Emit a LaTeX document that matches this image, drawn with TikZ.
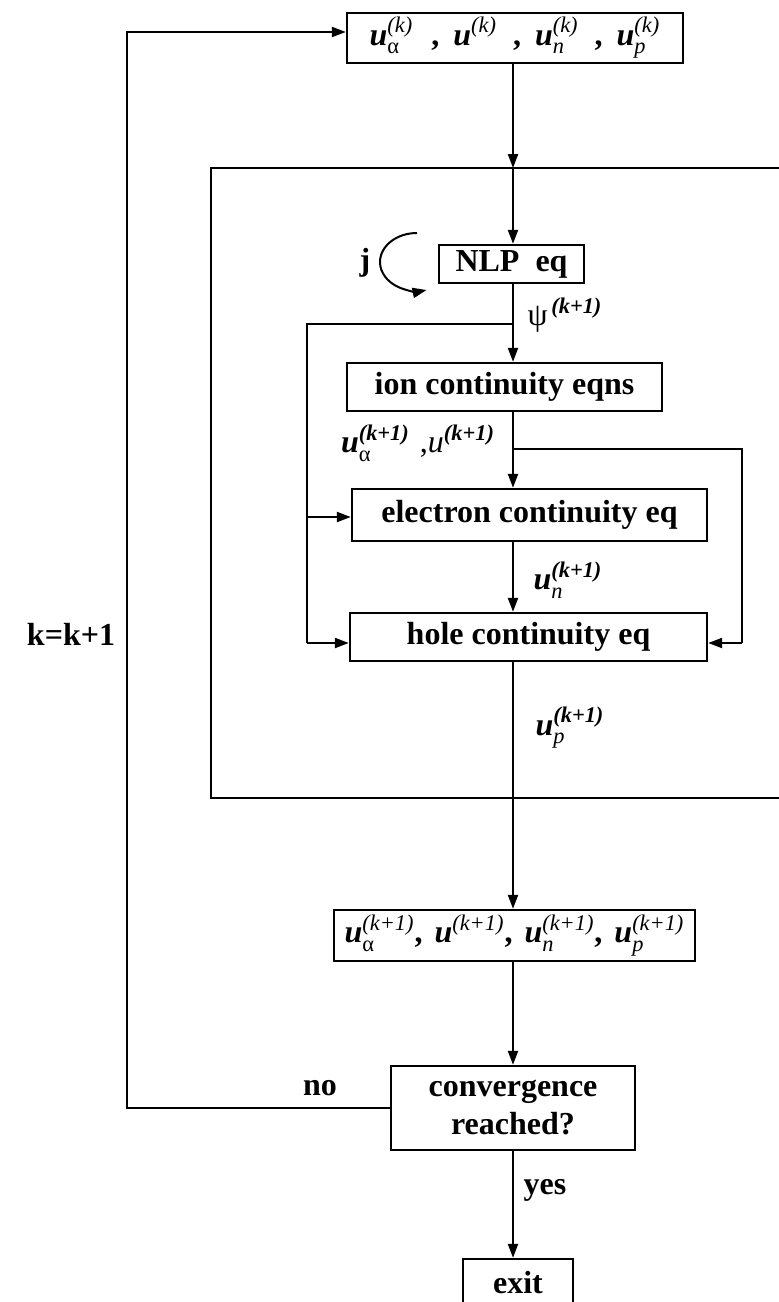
\documentclass[tikz,border=0pt]{standalone}
\usepackage{fontspec}
\setmainfont{Liberation Serif}
\usepackage{amsmath}
\usetikzlibrary{arrows.meta}
\newcommand{\uvar}[3]{\ensuremath{\text{#1}^{\text{#2}}_{\text{#3}}}}
\newcommand{\bu}{\bfseries\itshape u}
\begin{document}
\begin{tikzpicture}[x=0.5pt,y=-0.5pt,
  font=\fontsize{16}{19}\selectfont\bfseries,
  box/.style={draw, line width=1.2pt, inner sep=0pt, align=center},
  ln/.style={line width=1.1pt},
  arr/.style={line width=1.1pt, -{Triangle[length=7pt,width=5pt]}},
  lbl/.style={inner sep=0pt}]
\useasboundingbox (0,0) rectangle (779,1302);
\clip (0,0) rectangle (779,1302);
% boxes
\node[box, minimum width=168pt, minimum height=25pt] (top) at (515,38)
  {\uvar{\bu}{\normalfont\itshape(k)}{\normalfont α}\hspace{9pt},\hspace{7pt}%
   \uvar{\bu}{\normalfont\itshape(k)}{}\hspace{8pt},\hspace{7pt}%
   \uvar{\bu}{\normalfont\itshape(k)}{\normalfont\itshape n}\hspace{8pt},\hspace{7pt}%
   \uvar{\bu}{\normalfont\itshape(k)}{\normalfont\itshape p}};
\node[box, minimum width=72.5pt, minimum height=19pt] (nlp) at (511.5,264) {NLP\ \ eq};
\node[box, minimum width=157.5pt, minimum height=24pt] (ion) at (504.5,387) {ion continuity eqns};
\node[box, minimum width=177.5pt, minimum height=26pt] (elec) at (529.5,515) {electron continuity eq};
\node[box, minimum width=178.5pt, minimum height=24pt] (hole) at (528.5,637) {hole continuity eq};
\node[box, minimum width=180.5pt, minimum height=25.5pt] (res) at (514.5,935.5)
  {\uvar{\bu}{\normalfont\itshape(k+1)}{\normalfont α},\hspace{6pt}%
   \uvar{\bu}{\normalfont\itshape(k+1)}{},\hspace{6pt}%
   \uvar{\bu}{\normalfont\itshape(k+1)}{\normalfont\itshape n},\hspace{6pt}%
   \uvar{\bu}{\normalfont\itshape(k+1)}{\normalfont\itshape p}};
\node[box, minimum width=122pt, minimum height=42pt] (conv) at (513,1108) {convergence\\reached?};
\node[box, minimum width=55pt, minimum height=24pt] (exit) at (518,1283) {exit};
% outer loop rectangle (open to the right)
\draw[ln] (800,168) coordinate (rtr) -- (211,168) coordinate (rtl) -- (211,798) coordinate (rbl) -- (800,798) coordinate (rbr);
% spine coordinates
\coordinate (r1) at (513,168);
\coordinate (r2) at (513,798);
\coordinate (j1) at (513,324);
\coordinate (j2) at (513,449);
\coordinate (l1) at (307,324);
\coordinate (l2) at (307,517);
\coordinate (l3) at (307,643);
\coordinate (rr1) at (742,449);
\coordinate (rr2) at (742,643);
\coordinate (fb1) at (127,1108);
\coordinate (fb2) at (127,32);
% connectors
\draw[arr] (top.south -| r1) -- (r1);
\draw[arr] (r1) -- (nlp.north -| r1);
\draw[ln] (nlp.south -| j1) -- (j1);
\draw[arr] (j1) -- (ion.north -| j1);
\draw[ln] (j1) -- (l1) -- (l3);
\draw[arr] (l2) -- (elec.west |- l2);
\draw[arr] (l3) -- (hole.west |- l3);
\draw[ln] (ion.south -| j2) -- (j2);
\draw[arr] (j2) -- (elec.north -| j2);
\draw[ln] (j2) -- (rr1) -- (rr2);
\draw[arr] (rr2) -- (hole.east |- rr2);
\draw[arr] (elec.south -| j2) -- (hole.north -| j2);
\draw[ln] (hole.south -| r2) -- (r2);
\draw[arr] (r2) -- (res.north -| r2);
\draw[arr] (res.south -| r2) -- (conv.north -| r2);
\draw[arr] (conv.south -| r2) -- (exit.north -| r2);
\draw[arr] (conv.west) -- (fb1) -- (fb2) -- (top.west |- fb2);
% inner loop arc
\coordinate (arcstart) at (417,233);
\draw[arr, line width=1pt] (arcstart) arc[start angle=270, end angle=75, x radius=37, y radius=29] coordinate (arcend);
% labels
\node[lbl] (jlbl) at (365,263) {j};
\node[lbl] (psi) at (565,316) {\uvar{\normalfont ψ}{\bfseries\itshape\,(k+1)}{}};
\node[lbl] (ua) at (418,443) {\uvar{\itshape u}{\bfseries\itshape (k+1)}{\normalfont α}\hspace{5pt}\mdseries,\uvar{\itshape u}{\bfseries\itshape (k+1)}{}};
\node[lbl] (un) at (568,580) {\uvar{\bu}{\bfseries\itshape (k+1)}{\normalfont\itshape n}};
\node[lbl] (up) at (570,728) {\uvar{\bu}{\bfseries\itshape (k+1)}{\normalfont\itshape p}};
\node[lbl] (no) at (320,1088) {no};
\node[lbl] (yes) at (545,1190) {yes};
\node[lbl] (kk) at (71,634) {k=k+1};
\end{tikzpicture}
\end{document}
